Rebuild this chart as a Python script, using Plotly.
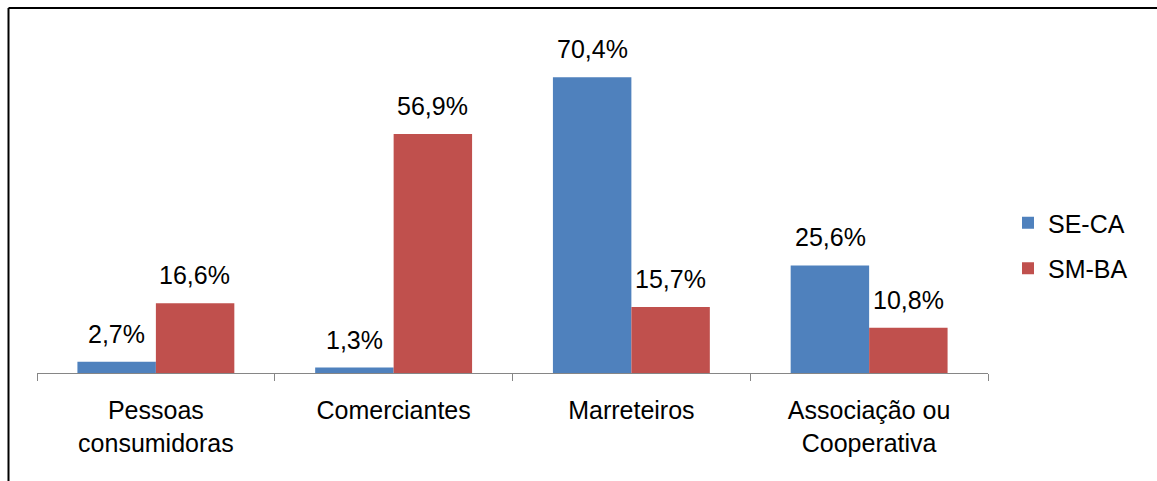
import plotly.graph_objects as go

categories = ["Pessoas<br>consumidoras", "Comerciantes", "Marreteiros", "Associação ou<br>Cooperativa"]
se_ca = [2.7, 1.3, 70.4, 25.6]
sm_ba = [16.6, 56.9, 15.7, 10.8]
series_names = ["SE-CA", "SM-BA"]
colors = ["#4F81BD", "#C0504D"]

FONT = "Liberation Sans, Arial, sans-serif"
FS = 25

fig = go.Figure()
for name, vals, col in zip(series_names, [se_ca, sm_ba], colors):
    fig.add_trace(go.Bar(x=categories, y=vals, name=name, marker=dict(color=col, line=dict(width=0)),
                         legendgroup=name))

def fmt(v):
    return f"{v:.1f}".replace(".", ",") + "%"

annotations = []
for i, cat in enumerate(categories):
    for vals, xs in [(se_ca, -39), (sm_ba, 39)]:
        annotations.append(dict(x=cat, y=vals[i], xref="x", yref="y", text=fmt(vals[i]),
                                showarrow=False, xshift=xs, yshift=28, yanchor="middle",
                                font=dict(family=FONT, size=FS, color="#000000")))

L, R, T, B = 37, 988, 37, 373
W, H = 1157, 481
pw, ph = R - L, B - T
def px_x(x):
    return (x - L) / pw
def px_y(y):
    return (B - y) / ph

shapes = [
    dict(type="line", xref="paper", yref="paper", x0=px_x(8.5), x1=px_x(1160), y0=px_y(8), y1=px_y(8),
         line=dict(color="#000000", width=2)),
    dict(type="line", xref="paper", yref="paper", x0=px_x(8.5), x1=px_x(8.5), y0=px_y(8), y1=px_y(490),
         line=dict(color="#000000", width=2)),
]

fig.update_layout(
    width=W, height=H,
    margin=dict(l=L, r=W - R, t=T, b=H - B, pad=0),
    paper_bgcolor="white", plot_bgcolor="white",
    barmode="group", bargap=0.34, bargroupgap=0,
    font=dict(family=FONT, size=FS, color="#000000"),
    showlegend=True,
    legend=dict(x=px_x(1008), y=px_y(200), xanchor="left", yanchor="top",
                font=dict(family=FONT, size=FS, color="#000000"),
                traceorder="grouped", tracegroupgap=10, itemwidth=30,
                bgcolor="rgba(0,0,0,0)"),
    annotations=annotations,
    shapes=shapes,
    xaxis=dict(showline=True, linecolor="#868686", linewidth=1, ticks="outside", tickson="boundaries",
               ticklen=7, tickcolor="#868686", showgrid=False, ticklabelstandoff=15,
               tickfont=dict(family=FONT, size=FS, color="#000000"), range=[-0.5, 3.5]),
    yaxis=dict(range=[0, 80], showticklabels=False, showgrid=False, zeroline=False, showline=False),
)

fig.write_html("out.html")
